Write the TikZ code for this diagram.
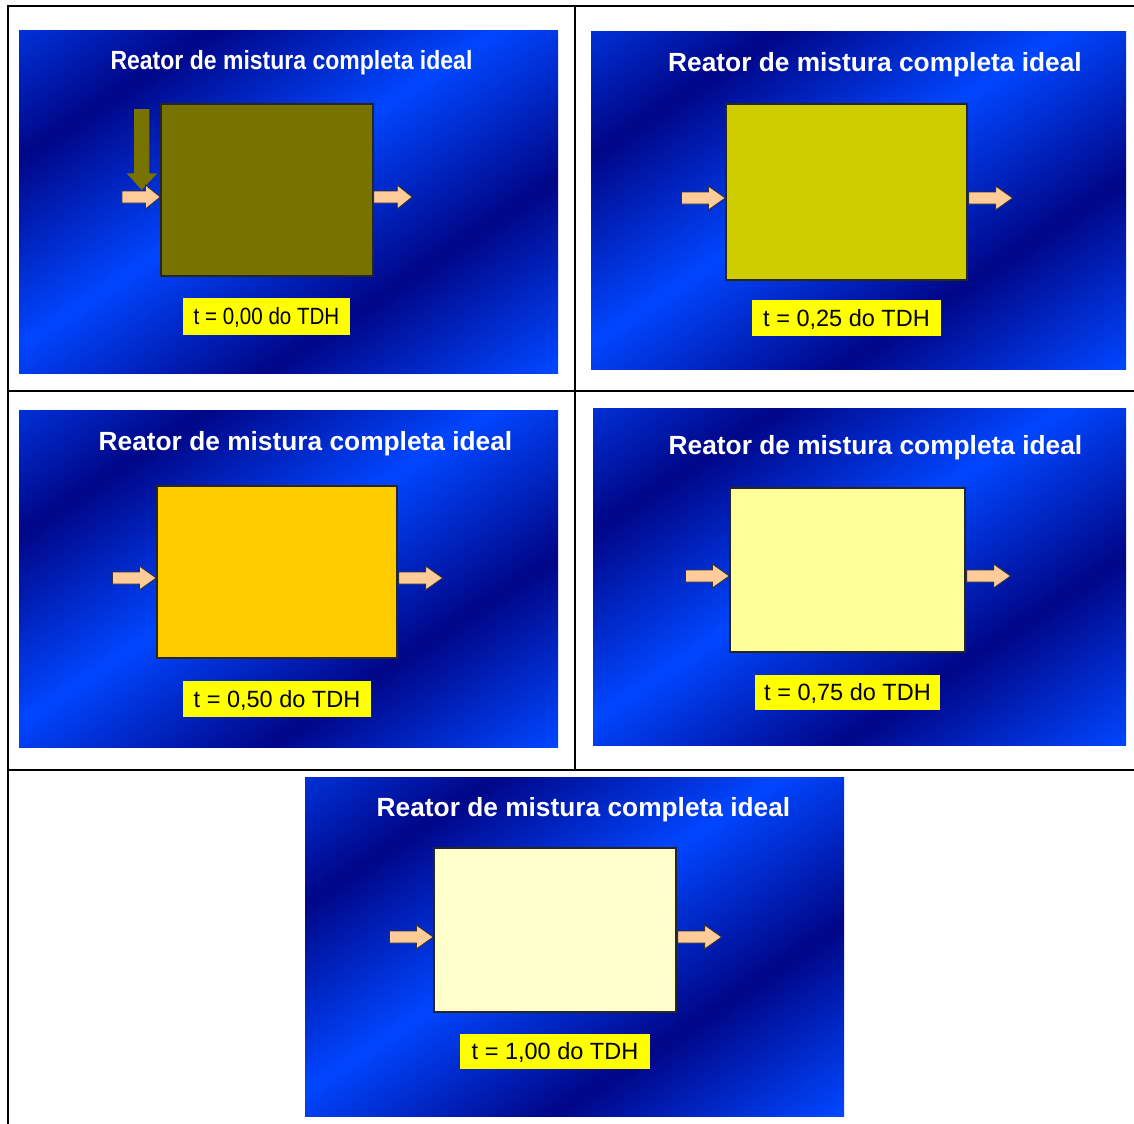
\documentclass[tikz,border=0pt]{standalone}
\usepackage{fontspec}
\setmainfont{Liberation Sans}
\usetikzlibrary{calc}
\definecolor{nv}{RGB}{0,6,135}
\definecolor{bb}{RGB}{0,70,255}
\definecolor{mid}{RGB}{0,49,220}
\definecolor{peach}{RGB}{255,204,153}
\definecolor{boxA}{RGB}{120,114,0}
\definecolor{boxB}{RGB}{207,204,0}
\definecolor{boxC}{RGB}{255,204,0}
\definecolor{boxD}{RGB}{255,255,153}
\definecolor{boxE}{RGB}{255,255,204}
\definecolor{lbl}{RGB}{255,255,0}
\pgfdeclareverticalshading{bands}{700bp}{color(0bp)=(bb); color(8bp)=(bb); color(165bp)=(nv); color(322bp)=(bb); color(479bp)=(nv); color(636bp)=(bb); color(700bp)=(mid)}
\tikzset{
  x=1bp, y=-1bp,
  gridline/.style={line width=2.3bp, black},
  bgshade/.style={inner sep=0pt, rotate=-146.6},
  reactor/.style={draw=black!85, line width=1.3bp, inner sep=0pt},
  ptitle/.style={text=white, inner sep=0pt, font=\fontsize{26.3bp}{30bp}\selectfont\bfseries, text height=19bp, text depth=0bp},
  plabel/.style={fill=lbl, inner sep=0pt, font=\fontsize{23.5bp}{28bp}\selectfont, text height=16.8bp, text depth=0bp},
  blockarrow/.pic={\draw[draw=black!80, line width=0.9bp, fill=peach] (-44,-6) -- (-17,-6) -- (-17,-12) -- (0,0) -- (-17,12) -- (-17,6) -- (-44,6) -- cycle;}
}
\begin{document}
\begin{tikzpicture}
\useasboundingbox (0,0) rectangle (1134,1124);
\fill[white] (0,0) rectangle (1134,1124);
% table grid
\draw[gridline] (7.7,6.2) -- (1134,6.2);
\draw[gridline] (7.7,5) -- (7.7,1124);
\draw[gridline] (7.7,391.2) -- (1134,391.2);
\draw[gridline] (7.7,770.2) -- (1134,770.2);
\draw[gridline] (574.7,6.2) -- (574.7,770.2);
% backgrounds
\begin{scope}\clip (19,30) rectangle (558,373);
\node[bgshade] (bg1) at (288.5,201.5) {\pgfuseshading{bands}};\end{scope}
\begin{scope}\clip (591,31) rectangle (1126,369.5);
\node[bgshade] (bg2) at (858.5,200.25) {\pgfuseshading{bands}};\end{scope}
\begin{scope}\clip (19,410) rectangle (558,747);
\node[bgshade] (bg3) at (288.5,578.5) {\pgfuseshading{bands}};\end{scope}
\begin{scope}\clip (593,408) rectangle (1126,745.5);
\node[bgshade] (bg4) at (859.5,576.75) {\pgfuseshading{bands}};\end{scope}
\begin{scope}\clip (305,777) rectangle (844,1116);
\node[bgshade] (bg5) at (574.5,946.5) {\pgfuseshading{bands}};\end{scope}
% titles
\node[ptitle, xscale=0.875] (t1) at (291.5,59.5) {Reator de mistura completa ideal};
\node[ptitle] (t2) at (875,62) {Reator de mistura completa ideal};
\node[ptitle] (t3) at (305.5,441) {Reator de mistura completa ideal};
\node[ptitle] (t4) at (875.5,445) {Reator de mistura completa ideal};
\node[ptitle] (t5) at (583.5,807) {Reator de mistura completa ideal};
% reactors
\node[reactor, fill=boxA, minimum width=212bp, minimum height=172bp] (r1) at (267,190) {};
\node[reactor, fill=boxB, minimum width=241bp, minimum height=176bp] (r2) at (846.5,192) {};
\node[reactor, fill=boxC, minimum width=240bp, minimum height=172bp] (r3) at (277,572) {};
\node[reactor, fill=boxD, minimum width=235bp, minimum height=164bp] (r4) at (847.5,570) {};
\node[reactor, fill=boxE, minimum width=242bp, minimum height=164bp] (r5) at (555,930) {};
% tracer pulse arrow (panel 1)
\fill[boxA] (134,109) -- (149.3,109) -- (149.3,173.3) -- (157.3,173.3) -- (141.7,190) -- (126.7,173.3) -- (134,173.3) -- cycle;
% inlet / outlet arrows
\pic[xscale=0.875] at (r1.west |- 0,197) {blockarrow};
\pic[xscale=0.875] at ($(r1.east |- 0,197)+(38.5,0)$) {blockarrow};
\pic at (r2.west |- 0,198) {blockarrow};
\pic at ($(r2.east |- 0,198)+(45,0)$) {blockarrow};
\pic at (r3.west |- 0,578) {blockarrow};
\pic at ($(r3.east |- 0,578)+(45,0)$) {blockarrow};
\pic at (r4.west |- 0,576) {blockarrow};
\pic at ($(r4.east |- 0,576)+(45,0)$) {blockarrow};
\pic at (r5.west |- 0,937) {blockarrow};
\pic at ($(r5.east |- 0,937)+(45,0)$) {blockarrow};
% time labels
\node[plabel, xscale=0.875, minimum width=191bp, minimum height=37bp] (l1) at (266.5,316.5) {t = 0,00 do TDH};
\node[plabel, minimum width=189bp, minimum height=36bp] (l2) at (846.5,318) {t = 0,25 do TDH};
\node[plabel, minimum width=188bp, minimum height=36bp] (l3) at (277,699) {t = 0,50 do TDH};
\node[plabel, minimum width=185bp, minimum height=35bp] (l4) at (847.5,692.5) {t = 0,75 do TDH};
\node[plabel, minimum width=190bp, minimum height=35bp] (l5) at (555,1051.5) {t = 1,00 do TDH};
\end{tikzpicture}
\end{document}
